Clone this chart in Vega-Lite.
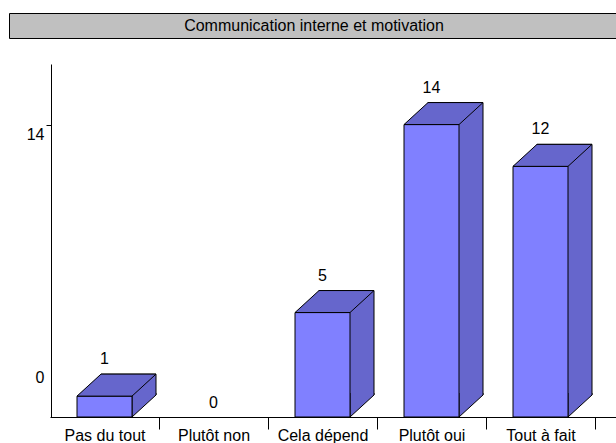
{
  "$schema": "https://vega.github.io/schema/vega-lite/v6.json",
  "padding": {"left": 8, "top": 12, "right": 0, "bottom": 0},
  "background": "white",
  "config": {
    "font": "Liberation Sans",
    "text": {"font": "Liberation Sans"},
    "axis": {"labelFont": "Liberation Sans"},
    "view": {"stroke": null},
    "concat": {"spacing": 25}
  },
  "datasets": {
    "d": [
      {"cat": "Pas du tout", "value": 1},
      {"cat": "Plutôt non", "value": 0},
      {"cat": "Cela dépend", "value": 5},
      {"cat": "Plutôt oui", "value": 14},
      {"cat": "Tout à fait", "value": 12}
    ]
  },
  "vconcat": [
    {
      "width": 610,
      "height": 25,
      "view": {"fill": "#C0C0C0", "stroke": "black", "strokeWidth": 1},
      "data": {"values": [{"t": "Communication interne et motivation"}]},
      "mark": {
        "type": "text",
        "fontSize": 16,
        "color": "black",
        "baseline": "middle",
        "align": "center"
      },
      "encoding": {
        "text": {"field": "t"},
        "x": {"value": 305},
        "y": {"value": 13}
      }
    },
    {
      "width": 608,
      "height": 353,
      "data": {"name": "d"},
      "encoding": {
        "x": {
          "field": "cat",
          "type": "nominal",
          "sort": ["Pas du tout", "Plutôt non", "Cela dépend", "Plutôt oui", "Tout à fait"],
          "scale": {"domain": ["Pas du tout", "Plutôt non", "Cela dépend", "Plutôt oui", "Tout à fait"], "range": [41, 608], "paddingInner": 0, "paddingOuter": 0.1009, "align": 0},
          "axis": {
            "title": null,
            "labelAngle": 0,
            "tickOffset": 54.5,
            "labelOffset": -54.5,
            "tickSize": 12,
            "tickColor": "black",
            "domainColor": "black",
            "labelFontSize": 16,
            "labelColor": "black",
            "labelPadding": -2,
            "labelBaseline": "top"
          }
        },
        "y": {
          "field": "value",
          "type": "quantitative",
          "scale": {"domain": [0, 16.9], "nice": false},
          "axis": {
            "title": null,
            "values": [0, 14],
            "offset": -42,
            "grid": false,
            "tickSize": 5,
            "labelPadding": 2,
            "labelFontSize": 16,
            "labelColor": "black",
            "domainColor": "black",
            "tickColor": "black",
            "labelBaseline": "middle",
            "labelOverlap": false,
            "labelFlush": false,
            "labelBound": false,
            "labelOffset": {"condition": {"test": "datum.value == 0", "value": -40}, "value": 10},
            "tickOpacity": {"condition": {"test": "datum.value == 0", "value": 0}, "value": 1}
          }
        }
      },
      "layer": [
        {
          "transform": [{"filter": "datum.value > 0"}],
          "mark": {"type": "bar", "width": 55, "xOffset": 24, "yOffset": -22, "y2Offset": -22, "fill": "#6666CC", "stroke": "black", "strokeWidth": 1}
        },
        {
          "transform": [{"filter": "datum.value > 0"}],
          "mark": {"type": "point", "shape": "M27.5,-24L27.5,0L51.5,-22L51.5,-24", "size": 4, "filled": true, "fill": "#6666CC", "stroke": "black", "strokeWidth": 1, "opacity": 1},
          "encoding": {"y": {"datum": 0}}
        },
        {
          "transform": [{"filter": "datum.value > 0"}],
          "mark": {"type": "bar", "width": 55, "fill": "#8080FF", "stroke": "black", "strokeWidth": 1}
        },
        {
          "transform": [{"filter": "datum.value > 0"}],
          "mark": {"type": "point", "shape": "M-27.5,0L-3.5,-22L51.5,-22L27.5,0Z", "size": 4, "filled": true, "fill": "#6666CC", "stroke": "black", "strokeWidth": 1, "opacity": 1}
        },
        {
          "transform": [{"filter": "datum.value > 0"}],
          "mark": {"type": "text", "fontSize": 16, "dy": -37, "baseline": "middle", "color": "black"},
          "encoding": {"text": {"field": "value"}}
        },
        {
          "transform": [{"filter": "datum.value == 0"}],
          "mark": {"type": "text", "fontSize": 16, "dy": -14, "baseline": "middle", "color": "black"},
          "encoding": {"text": {"field": "value"}}
        }
      ]
    }
  ]
}
